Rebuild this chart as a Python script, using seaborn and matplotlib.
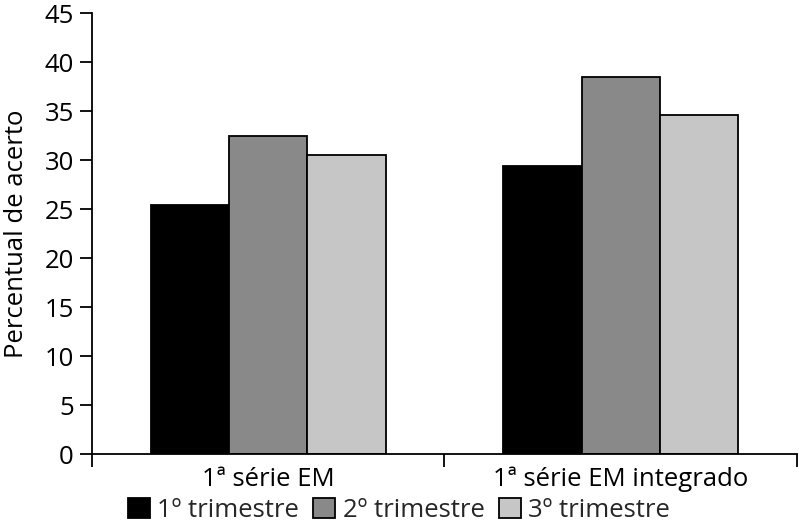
import matplotlib
matplotlib.use("Agg")
import matplotlib.pyplot as plt
import seaborn as sns
import pandas as pd

# data
grupos = ["1ª série EM", "1ª série EM integrado"]
trimestres = ["1º trimestre", "2º trimestre", "3º trimestre"]
tri1 = [25.4, 29.4]
tri2 = [32.5, 38.5]
tri3 = [30.5, 34.6]
cores = ["#000000", "#898989", "#c6c6c6"]

rows = []
for serie, vals in zip(trimestres, [tri1, tri2, tri3]):
    for g, v in zip(grupos, vals):
        rows.append({"grupo": g, "trimestre": serie, "valor": v})
df = pd.DataFrame(rows)

sns.set_style("white")
plt.rcParams["font.family"] = ["Open Sans", "DejaVu Sans"]
fs = 18.5

fig = plt.figure(figsize=(7.99, 5.27), dpi=100)
ax = fig.add_axes([0.1151, 0.1385, 0.8824, 0.8368])

sns.barplot(data=df, x="grupo", y="valor", hue="trimestre", order=grupos,
            hue_order=trimestres, palette=cores, width=0.667,
            edgecolor="black", linewidth=1.3, ax=ax, errorbar=None)

ax.set_ylim(0, 45)
ax.set_xlim(-0.5, 1.5)
ax.set_yticks(range(0, 46, 5))
ax.tick_params(axis="y", direction="out", length=9, width=1.3, labelsize=fs,
               left=True, pad=4, color="black", labelcolor="black")
ax.set_xticks([0, 1])
ax.set_xticklabels(grupos)
ax.tick_params(axis="x", which="major", length=0, labelsize=fs, pad=9,
               labelcolor="black")
ax.set_xticks([-0.5, 0.5, 1.5], minor=True)
ax.tick_params(axis="x", which="minor", direction="out", length=9, width=1.3,
               bottom=True, color="black")

ax.set_xlabel("")
ax.set_ylabel("Percentual de acerto", fontsize=fs, color="black", labelpad=11)

sns.despine(ax=ax)
for s in ["left", "bottom"]:
    ax.spines[s].set_color("black")
    ax.spines[s].set_linewidth(1.3)

handles, labels = ax.get_legend_handles_labels()
ax.get_legend().remove()
fig.legend(handles, labels, loc="lower center", bbox_to_anchor=(0.4995, 0.008),
           ncol=3, frameon=False, fontsize=fs, handlelength=0.85,
           handleheight=0.85, handletextpad=0.3, columnspacing=0.55,
           borderaxespad=0, borderpad=0)

fig.savefig("out.png", dpi=100)
